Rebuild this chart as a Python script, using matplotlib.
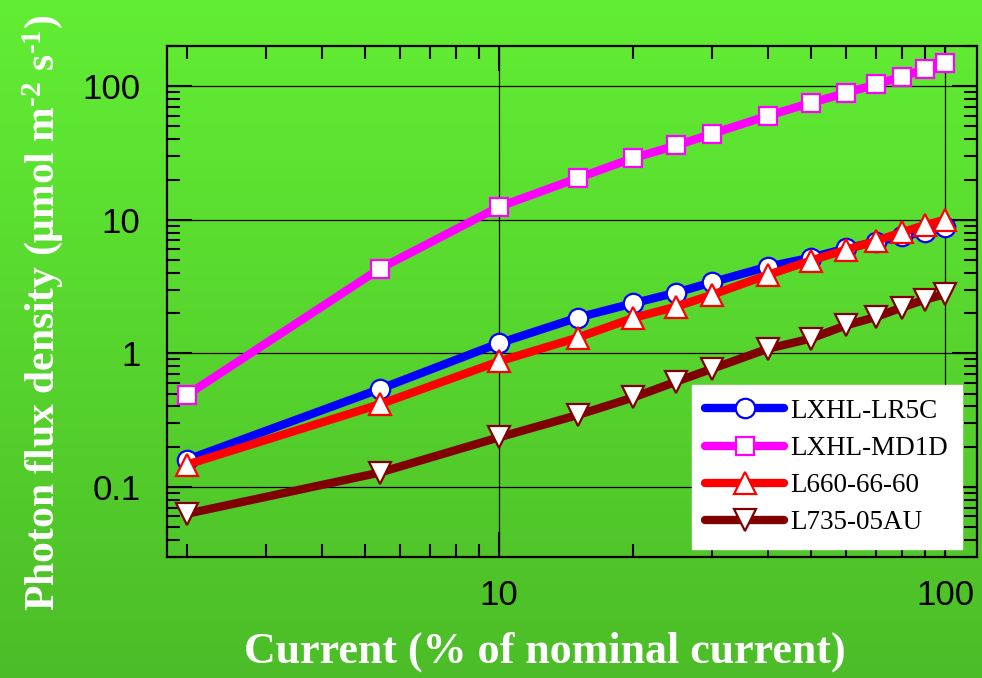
import numpy as np
import matplotlib
matplotlib.use('Agg')
import matplotlib.pyplot as plt
from matplotlib.ticker import LogLocator, FixedLocator, FixedFormatter, NullFormatter

# current in % of nominal current
current = [2, 5.4, 10, 15, 20, 25, 30, 40, 50, 60, 70, 80, 90, 100]

# photon flux density (umol m-2 s-1) for each LED
lr5c = [0.16, 0.54, 1.19, 1.85, 2.37, 2.85, 3.4, 4.45, 5.2, 6.1, 6.85, 7.5, 8.15, 8.9]
md1d = [0.49, 4.3, 12.5, 20.5, 29, 36, 44, 60, 75, 89, 103, 118, 134, 150]
l660 = [0.147, 0.415, 0.87, 1.31, 1.84, 2.24, 2.74, 3.86, 4.94, 5.97, 6.94, 8.06, 9.1, 10.0]
l735 = [0.063, 0.128, 0.235, 0.345, 0.467, 0.615, 0.765, 1.08, 1.29, 1.62, 1.87, 2.2, 2.52, 2.77]

names = ['LXHL-LR5C', 'LXHL-MD1D', 'L660-66-60', 'L735-05AU']
colors = ['#0000ff', '#ff00ff', '#ff0000', '#800000']
markers = ['o', 's', '^', 'v']
msizes = [14, 13, 15.5, 15.5]

x_ticks = [10, 100]
y_ticks = [0.1, 1, 10, 100]
y_ticklabels = ['0.1', '1', '10', '100']

plt.rcParams['font.family'] = ['Liberation Sans', 'DejaVu Sans']
plt.rcParams['mathtext.fontset'] = 'custom'
plt.rcParams['mathtext.rm'] = 'Liberation Serif:bold'
plt.rcParams['mathtext.default'] = 'rm'

fig = plt.figure(figsize=(9.82, 6.78), dpi=100)

# green gradient background
bg = fig.add_axes([0, 0, 1, 1], zorder=-1)
top = np.array([0x62, 0xee, 0x34]) / 255
bot = np.array([0x4c, 0xbd, 0x28]) / 255
t = np.linspace(0, 1, 256)[:, None]
grad = (top * (1 - t) + bot * t)[:, None, :]
bg.imshow(grad, aspect='auto', extent=[0, 1, 0, 1])
bg.axis('off')

ax = fig.add_axes([167/982, 1 - 556.7/678, (977 - 167)/982, (556.7 - 46)/678])
ax.patch.set_alpha(0)

for yv, nm, c, m, ms in zip([lr5c, md1d, l660, l735], names, colors, markers, msizes):
    ax.plot(current, yv, color=c, lw=6, marker=m, ms=ms, mfc='white', mec=c, mew=1.6,
            solid_capstyle='round', label=nm, zorder=3)

ax.set_xscale('log')
ax.set_yscale('log')
ax.set_xlim(1.8, 118)
ax.set_ylim(0.03, 200)

ax.xaxis.set_major_locator(FixedLocator(x_ticks))
ax.xaxis.set_major_formatter(FixedFormatter(['10', '100']))
ax.xaxis.set_minor_locator(LogLocator(base=10, subs=np.arange(2, 10)))
ax.xaxis.set_minor_formatter(NullFormatter())
ax.yaxis.set_major_locator(FixedLocator(y_ticks))
ax.yaxis.set_major_formatter(FixedFormatter(y_ticklabels))
ax.yaxis.set_minor_locator(LogLocator(base=10, subs=np.arange(2, 10)))
ax.yaxis.set_minor_formatter(NullFormatter())

ax.tick_params(which='both', direction='in', top=True, right=True, width=1.5, colors='k')
ax.tick_params(which='major', length=18, labelsize=25)
ax.tick_params(axis='y', which='major', pad=19)
ax.tick_params(axis='x', which='major', pad=16)
ax.tick_params(which='minor', length=9.5)
for s in ax.spines.values():
    s.set_linewidth(1.6)

ax.set_axisbelow(True)
ax.grid(which='major', color='k', lw=0.9)

leg = ax.legend(loc='lower right', bbox_to_anchor=(962/982, 1 - 549/678),
                bbox_transform=fig.transFigure, borderaxespad=0, frameon=True,
                fancybox=False, framealpha=1, edgecolor='white', facecolor='white',
                numpoints=1, handlelength=2.9, handletextpad=0.25, labelspacing=0.45,
                borderpad=0.5, prop={'family': 'Liberation Serif', 'size': 19.5})

fig.text(545/982, 1 - 652/678, 'Current (% of nominal current)', ha='center', va='center',
         color='white', fontsize=31.7, fontweight='bold', family='Liberation Serif')
fig.text(43/982, 1 - 313/678, 'Photon flux density (\u03bcmol m$^{\\text{-2}}$ s$^{\\text{-1}}$)',
         ha='center', va='center', rotation=90, color='white', fontsize=30,
         fontweight='bold', family='Liberation Serif')

fig.savefig('out.png', dpi=100)
